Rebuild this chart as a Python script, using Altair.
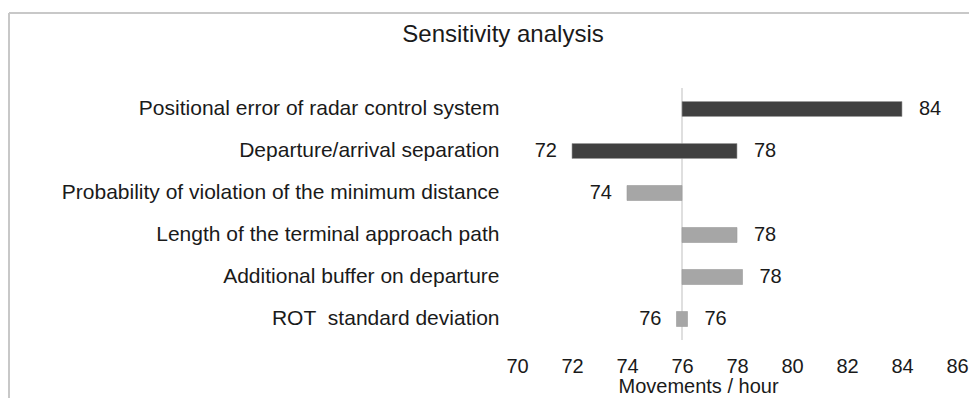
import altair as alt
import pandas as pd

categories = [
    "Positional error of radar control system",
    "Departure/arrival separation",
    "Probability of violation of the minimum distance",
    "Length of the terminal approach path",
    "Additional buffer on departure",
    "ROT\u00a0 standard deviation",
]
low_values = [76, 72, 74, 76, 76, 75.8]
high_values = [84, 78, 76, 78, 78.2, 76.2]
left_labels = [None, 72, 74, None, None, 76]
right_labels = [84, 78, None, 78, 78, 76]
groups = ["major", "major", "minor", "minor", "minor", "minor"]
baseline = [76]

df = pd.DataFrame({
    "factor": categories,
    "low": low_values,
    "high": high_values,
    "left_label": left_labels,
    "right_label": right_labels,
    "group": groups,
})
base_df = pd.DataFrame({"base": baseline})

FONT = "Liberation Sans"
TXT = "#1a1a1a"
W, H = 440, 252

y_enc = alt.Y("factor:N", sort=categories, title=None,
              axis=alt.Axis(labelFontSize=21, labelColor=TXT, labelFont=FONT,
                            labelPadding=18, ticks=False, domain=False, labelLimit=700))
x_scale = alt.Scale(domain=[70, 86], nice=False, zero=False)

bars = alt.Chart(df).mark_bar(size=15, stroke="#9a9a9a", strokeWidth=0.6).encode(
    x=alt.X("low:Q", scale=x_scale, title="Movements / hour",
            axis=alt.Axis(values=list(range(70, 87, 2)), grid=False, domain=False, ticks=False,
                          labelFlush=False,
                          labelFontSize=20, labelColor=TXT, labelFont=FONT, labelPadding=16,
                          titleFontSize=20, titleFont=FONT, titleFontWeight="normal",
                          titleColor=TXT, titlePadding=0, titleX=181)),
    x2="high:Q",
    y=y_enc,
    color=alt.Color("group:N", scale=alt.Scale(domain=["major", "minor"], range=["#404040", "#a6a6a6"]),
                    legend=None),
)

rule = alt.Chart(base_df).mark_rule(color="#d4d4d4", strokeWidth=1.5).encode(
    x=alt.X("base:Q", scale=x_scale),
)

left_text = alt.Chart(df).transform_filter("isValid(datum.left_label)").mark_text(
    align="right", baseline="middle", dx=-15, fontSize=20, font=FONT, color=TXT
).encode(
    x=alt.X("low:Q", scale=x_scale),
    y=alt.Y("factor:N", sort=categories),
    text=alt.Text("left_label:Q", format=".0f"),
)

right_text = alt.Chart(df).transform_filter("isValid(datum.right_label)").mark_text(
    align="left", baseline="middle", dx=17, fontSize=20, font=FONT, color=TXT
).encode(
    x=alt.X("high:Q", scale=x_scale),
    y=alt.Y("factor:N", sort=categories),
    text=alt.Text("right_label:Q", format=".0f"),
)

frame_left = alt.Chart(base_df).mark_rule(color="#c8c8c8", strokeWidth=2).encode(
    x=alt.value(-508), y=alt.value(-75), y2=alt.value(320))
frame_top = alt.Chart(base_df).mark_rule(color="#c8c8c8", strokeWidth=2).encode(
    x=alt.value(-508), x2=alt.value(470), y=alt.value(-75))

chart = alt.layer(frame_left, frame_top, rule, bars, left_text, right_text).properties(
    width=W, height=H,
    title=alt.TitleParams("Sensitivity analysis", fontSize=24, font=FONT, fontWeight="normal",
                          color=TXT, anchor="middle", frame="group", dx=-234, offset=0, dy=35),
    autosize=alt.AutoSizeParams(type="none"),
    padding={"left": 509, "top": 80, "right": 12, "bottom": 58},
).configure_view(stroke=None)

chart.save("out.html", embed_options={"renderer": "svg", "actions": False})
